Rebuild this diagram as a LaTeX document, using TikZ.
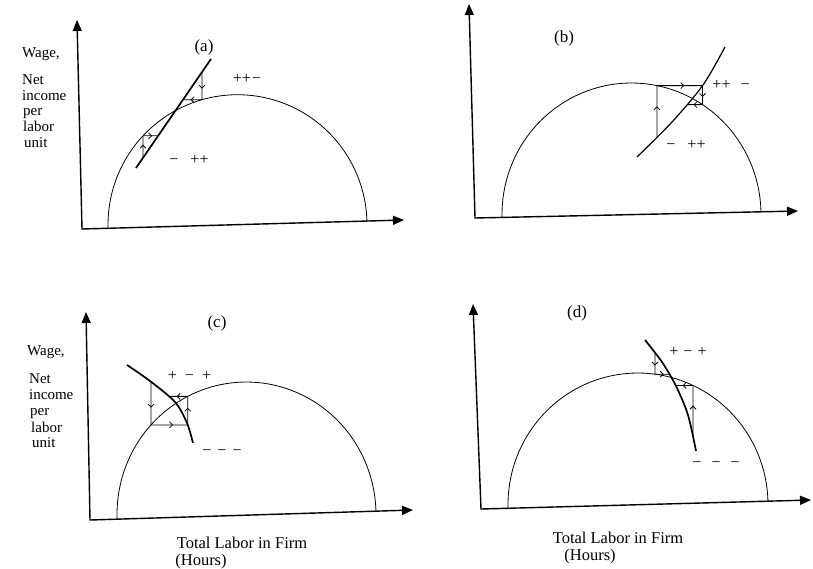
\documentclass[tikz,border=0pt]{standalone}
\usepackage{fontspec}
\setmainfont{Liberation Serif}
\usetikzlibrary{arrows.meta,decorations.markings,intersections}
\begin{document}
\begin{tikzpicture}[x=1pt,y=-1pt,
  axisline/.style={line width=1.4pt, arrows={Triangle[length=11pt,width=9pt]-Triangle[length=11pt,width=9pt]}},
  semic/.style={line width=0.8pt},
  thickcurve/.style={line width=1.7pt},
  thincurve/.style={line width=1.2pt},
  tri/.style={line width=0.8pt},
  marr/.style={postaction={decorate,decoration={markings,mark=at position 0.6 with {\arrow{Straight Barb[length=3pt,width=6pt]}}}}},
  lab/.style={font=\fontsize{15}{17}\selectfont, inner sep=0pt, anchor=base west},
  sig/.style={font=\fontsize{16}{18}\selectfont, inner sep=0pt},
  ttl/.style={font=\fontsize{17}{19}\selectfont, inner sep=0pt},
  xlab/.style={font=\fontsize{16.5}{19}\selectfont, inner sep=0pt},
]
\useasboundingbox (0,0) rectangle (813,568);
\fill[white] (0,0) rectangle (813,568);

% ================= (a) =================
\coordinate (ay) at (77,20); \coordinate (ao) at (82,229); \coordinate (ax) at (404,220);
\draw[axisline] (ay) -- (ao) -- (ax);
\draw[semic, name path=ca, rotate around={1.55:(237.5,224.7)}]
  plot[domain=0:180, samples=100] ({237.5+129.5*cos(\x)},{224.7-130*sin(\x)});
\coordinate (la0) at (136,168); \coordinate (la1) at (211,59);
\draw[thickcurve, name path=la] (la0) -- (la1);
\path[name path=va1] (143,0) -- (143,260);
\path[name intersections={of=ca and va1, by=a1c}];
\path[name intersections={of=la and va1, by=a1l}];
\path[name path=ha1] ([xshift=-60pt]a1c) -- ([xshift=60pt]a1c);
\path[name intersections={of=la and ha1, by=a1h}];
\draw[tri, marr] (a1l) -- (a1c);
\draw[tri, marr] (a1c) -- (a1h);
\path[name path=va2] (202,0) -- (202,260);
\path[name intersections={of=ca and va2, by=a2c}];
\path[name intersections={of=la and va2, by=a2l}];
\path[name path=ha2] ([xshift=-60pt]a2c) -- ([xshift=60pt]a2c);
\path[name intersections={of=la and ha2, by=a2h}];
\draw[tri, marr] (a2l) -- (a2c);
\draw[tri, marr] (a2c) -- (a2h);
\node[ttl] (ta) at (204,47) {(a)};
\node[sig] (sa1) at (247,79) {++\kern1pt−};
\node[sig] (sa2) at (189,160) {−\hspace{12pt}++};
\node[lab] (wa1) at (22,57) {Wage,};
\node[lab] (wa2) at (22,84) {Net};
\node[lab] (wa3) at (22,100.5) {income};
\node[lab] (wa4) at (23,115.5) {per};
\node[lab] (wa5) at (23,131.5) {labor};
\node[lab] (wa6) at (24,147) {unit};

% ================= (b) =================
\coordinate (by) at (469,4); \coordinate (bo) at (475,218); \coordinate (bx) at (798,211);
\draw[axisline] (by) -- (bo) -- (bx);
\draw[semic, name path=cb, rotate around={1.44:(631.5,214.5)}]
  plot[domain=0:180, samples=100] ({631.5+129.5*cos(\x)},{214.5-131.5*sin(\x)});
\draw[thincurve, name path=lb] plot[smooth] coordinates {(637,157) (672,122) (703,85) (725,47)};
\path[name path=vb1] (657,0) -- (657,260);
\path[name intersections={of=cb and vb1, by=b1c}];
\path[name intersections={of=lb and vb1, by=b1l}];
\path[name path=hb1] ([xshift=-80pt]b1c) -- ([xshift=80pt]b1c);
\path[name intersections={of=lb and hb1, by=b1h}];
\path[name path=vb2] ([yshift=-40pt]b1h) -- ([yshift=40pt]b1h);
\path[name intersections={of=cb and vb2, by=b2c}];
\path[name path=hb2] ([xshift=-40pt]b2c) -- ([xshift=40pt]b2c);
\path[name intersections={of=lb and hb2, by=b2h}];
\draw[tri, marr] (b1l) -- (b1c);
\draw[tri, marr] (b1c) -- (b1h);
\draw[tri, marr] (b1h) -- (b2c);
\draw[tri, marr] (b2c) -- (b2h);
\node[ttl] (tb) at (564,38) {(b)};
\node[sig] (sb1) at (731,85) {++\hspace{10pt}−};
\node[sig] (sb2) at (686,145) {−\hspace{12pt}++};

% ================= (c) =================
\coordinate (cy) at (86,312); \coordinate (co) at (90,520); \coordinate (cx) at (413,510);
\draw[axisline] (cy) -- (co) -- (cx);
\draw[semic, name path=cc, rotate around={1.88:(246.5,514.5)}]
  plot[domain=0:180, samples=100] ({246.5+129.5*cos(\x)},{514.5-132.5*sin(\x)});
\draw[thickcurve, name path=lc] plot[smooth] coordinates {(127,365) (150,381) (175,402) (187,423) (193,443)};
\path[name path=vc1] (151,300) -- (151,560);
\path[name intersections={of=cc and vc1, by=c1c}];
\path[name intersections={of=lc and vc1, by=c1l}];
\path[name path=hc1] ([xshift=-60pt]c1c) -- ([xshift=80pt]c1c);
\path[name intersections={of=lc and hc1, by=c1h}];
\path[name path=vc2] ([yshift=-40pt]c1h) -- ([yshift=40pt]c1h);
\path[name intersections={of=cc and vc2, by=c2c}];
\path[name path=hc2] ([xshift=-40pt]c2c) -- ([xshift=40pt]c2c);
\path[name intersections={of=lc and hc2, by=c2h}];
\draw[tri, marr] (c1l) -- (c1c);
\draw[tri, marr] (c1c) -- (c1h);
\draw[tri, marr] (c1h) -- (c2c);
\draw[tri, marr] (c2c) -- (c2h);
\node[ttl] (tc) at (217,323) {(c)};
\node[sig] (sc1) at (189.5,376) {+\hspace{8pt}−\hspace{8pt}+};
\node[sig] (sc2) at (222,453) {−\hspace{6pt}−\hspace{6pt}−};
\node[lab] (wc1) at (27,355) {Wage,};
\node[lab] (wc2) at (29,383) {Net};
\node[lab] (wc3) at (29,399) {income};
\node[lab] (wc4) at (30,415) {per};
\node[lab] (wc5) at (31,432) {labor};
\node[lab] (wc6) at (32,447) {unit};
\node[xlab] (xc1) at (242,543) {Total Labor in Firm};
\node[xlab] (xc2) at (201,562) {(Hours)};

% ================= (d) =================
\coordinate (dy) at (473,304); \coordinate (do) at (481,509); \coordinate (dx) at (811,500);
\draw[axisline] (dy) -- (do) -- (dx);
\draw[semic, name path=cd, rotate around={1.54:(638,504.5)}]
  plot[domain=0:180, samples=100] ({638+130*cos(\x)},{504.5-131.5*sin(\x)});
\draw[thickcurve, name path=ld] plot[smooth] coordinates {(645,340) (662,362) (676,386) (688,415) (696,451)};
\path[name path=vd1] (655,300) -- (655,480);
\path[name intersections={of=cd and vd1, by=d1c}];
\path[name intersections={of=ld and vd1, by=d1l}];
\path[name path=hd1] ([xshift=-40pt]d1c) -- ([xshift=40pt]d1c);
\path[name intersections={of=ld and hd1, by=d1h}];
\path[name path=vd2] (693,300) -- (693,480);
\path[name intersections={of=cd and vd2, by=d2c}];
\path[name intersections={of=ld and vd2, by=d2l}];
\path[name path=hd2] ([xshift=-40pt]d2c) -- ([xshift=40pt]d2c);
\path[name intersections={of=ld and hd2, by=d2h}];
\draw[tri, marr] (d1l) -- (d1c);
\draw[tri, marr] (d1c) -- (d1h);
\draw[tri, marr] (d2l) -- (d2c);
\draw[tri, marr] (d2c) -- (d2h);
\node[ttl] (td) at (577,313) {(d)};
\node[sig] (sd1) at (688,352) {+\hspace{5pt}−\hspace{5pt}+};
\node[sig] (sd2) at (716,465) {−\hspace{10pt}−\hspace{10pt}−};
\node[xlab] (xd1) at (618,538) {Total Labor in Firm};
\node[xlab] (xd2) at (590,557) {(Hours)};
\end{tikzpicture}
\end{document}
